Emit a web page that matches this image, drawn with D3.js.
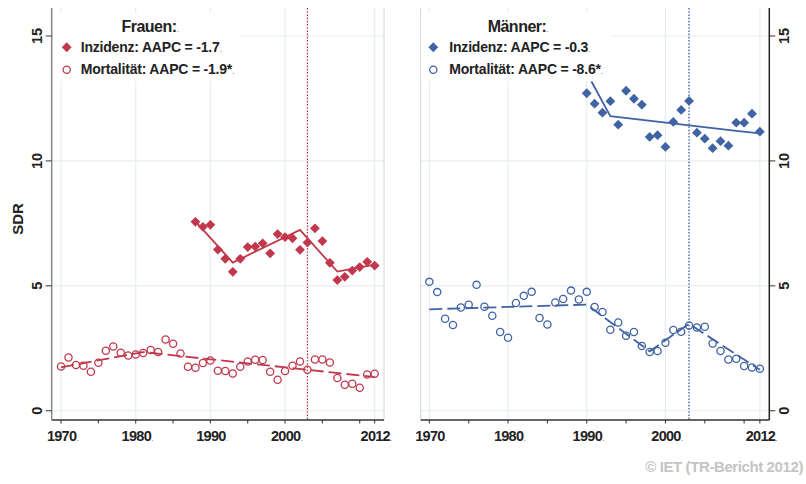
<!DOCTYPE html>
<html><head><meta charset="utf-8">
<script src="https://cdn.jsdelivr.net/npm/d3@7"></script>
<style>
body{margin:0;background:#fff;}
text{font-family:"Liberation Sans",Arial,Helvetica,sans-serif;font-weight:bold;}
</style></head>
<body><svg id="c" width="806" height="484"></svg>
<script>
// ---------- data ----------
const yearsInc = d3.range(1988, 2013); // Frauen incidence years
const frauenInc = [7.56,7.36,7.44,6.45,6.08,5.56,6.08,6.55,6.57,6.70,6.30,7.07,6.95,6.90,6.44,6.73,7.30,6.79,5.92,5.23,5.36,5.61,5.75,5.96,5.81];
const frauenIncFitYears = [1988,1993,2002,2007,2012];
const frauenIncFit = [7.58,5.93,7.24,5.57,5.85];

const yearsMort = d3.range(1970, 2013);
const frauenMort = [1.77,2.13,1.83,1.80,1.56,1.92,2.40,2.57,2.32,2.21,2.25,2.31,2.43,2.35,2.85,2.68,2.29,1.76,1.72,1.91,2.01,1.60,1.59,1.49,1.76,1.97,2.04,2.03,1.56,1.24,1.59,1.80,1.97,1.64,2.05,2.05,1.93,1.31,1.04,1.08,0.92,1.45,1.48];
const frauenMortFitYears = [1970,1981,2012];
const frauenMortFit = [1.74,2.35,1.35];

const yearsIncM = d3.range(1990, 2013);
const maennerInc = [12.71,12.29,11.93,12.39,11.45,12.81,12.49,12.25,10.96,11.03,10.56,11.56,12.04,12.40,11.13,10.89,10.51,10.79,10.61,11.53,11.53,11.89,11.17];
const maennerIncFitYears = [1990.6,1993,2009,2012];
const maennerIncFit = [13.18,11.79,11.20,11.10];

const maennerMort = [5.16,4.75,3.68,3.43,4.13,4.24,5.04,4.16,3.80,3.15,2.92,4.31,4.60,4.76,3.71,3.45,4.33,4.47,4.81,4.45,4.76,4.15,3.95,3.24,3.53,3.00,3.15,2.59,2.35,2.39,2.72,3.23,3.16,3.41,3.33,3.36,2.69,2.39,2.05,2.08,1.79,1.73,1.68];
const maennerMortFitYears = [1970,1990,1998,2003,2012];
const maennerMortFit = [4.06,4.25,2.38,3.48,1.64];

const majorYears = [1970,1980,1990,2000,2012];
const minorYears = [1975,1985,1995,2005,2010];
const yTicks = [0,5,10,15];
const markerYear = 2003;

const panels = [
  {title:"Frauen:", inc:"Inzidenz: AAPC = -1.7", mort:"Mortalität: AAPC = -1.9*",
   color:"#c1384c", incYears:yearsInc, incVals:frauenInc, incFitY:frauenIncFitYears, incFit:frauenIncFit,
   mortVals:frauenMort, mortFitY:frauenMortFitYears, mortFit:frauenMortFit},
  {title:"Männer:", inc:"Inzidenz: AAPC = -0.3", mort:"Mortalität: AAPC = -8.6*",
   color:"#4063a4", incYears:yearsIncM, incVals:maennerInc, incFitY:maennerIncFitYears, incFit:maennerIncFit,
   mortVals:maennerMort, mortFitY:maennerMortFitYears, mortFit:maennerMortFit}
];

// ---------- layout ----------
const svg = d3.select("#c");
const topY = 8, botY = 420;
const y = d3.scaleLinear().domain([-0.37, 16.12]).range([botY, topY]);
const xs = [
  d3.scaleLinear().domain([1968.75, 2013.25]).range([51.7, 384]),
  d3.scaleLinear().domain([1968.9, 2013.2]).range([420.7, 769.3])
];
const grid = "#e6eef1";

panels.forEach((p, i) => {
  const x = xs[i];
  const [x0, x1] = x.range();
  const g = svg.append("g");
  // grid
  g.selectAll(".vg").data(majorYears).join("line")
    .attr("x1", d => x(d)).attr("x2", d => x(d)).attr("y1", topY).attr("y2", botY)
    .attr("stroke", grid).attr("stroke-width", 1.2);
  g.selectAll(".hg").data(yTicks).join("line")
    .attr("x1", x0).attr("x2", x1).attr("y1", d => y(d)).attr("y2", d => y(d))
    .attr("stroke", grid).attr("stroke-width", 1.2);
  // light inner frame edge
  g.append("line").attr("x1", i === 0 ? x1 : x0).attr("x2", i === 0 ? x1 : x0)
    .attr("y1", topY).attr("y2", botY).attr("stroke", "#d0d4d6").attr("stroke-width", 1);

  // legend box
  const lx = i === 0 ? x0 + 1 : x0 + 0.5;
  g.append("rect").attr("x", lx).attr("y", 13).attr("width", i === 0 ? 188 : 190).attr("height", 68).attr("fill", "#fff");

  // vertical marker line
  g.append("line").attr("x1", x(markerYear)).attr("x2", x(markerYear)).attr("y1", topY).attr("y2", botY)
    .attr("stroke", p.color).attr("stroke-width", 1.3).attr("stroke-dasharray", "1.6,1.6");

  // fitted lines
  const line = d3.line().x(d => x(d[0])).y(d => y(d[1]));
  g.append("path").datum(p.incFitY.map((yy, k) => [yy, p.incFit[k]]))
    .attr("d", line).attr("fill", "none").attr("stroke", p.color).attr("stroke-width", 1.8);
  g.append("path").datum(p.mortFitY.map((yy, k) => [yy, p.mortFit[k]]))
    .attr("d", line).attr("fill", "none").attr("stroke", p.color).attr("stroke-width", 1.8)
    .attr("stroke-dasharray", "13,5");

  // points
  const diamond = d3.symbol().type(d3.symbolDiamond2).size(62);
  g.selectAll(".inc").data(p.incYears.map((yy, k) => [yy, p.incVals[k]])).join("path")
    .attr("d", diamond).attr("transform", d => `translate(${x(d[0])},${y(d[1])})`)
    .attr("fill", p.color);
  g.selectAll(".mort").data(yearsMort.map((yy, k) => [yy, p.mortVals[k]])).join("circle")
    .attr("cx", d => x(d[0])).attr("cy", d => y(d[1])).attr("r", 3.6)
    .attr("fill", "none").attr("stroke", p.color).attr("stroke-width", 1.3);

  // axes
  const ax = g.append("g").attr("transform", `translate(0,${botY})`);
  ax.append("line").attr("x1", x0).attr("x2", x1).attr("stroke", "#333").attr("stroke-width", 1.5);
  ax.selectAll(".mt").data(majorYears.concat(minorYears)).join("line")
    .attr("x1", d => x(d)).attr("x2", d => x(d)).attr("y1", 0).attr("y2", 3.5)
    .attr("stroke", "#333").attr("stroke-width", 1);
  const lbl = ax.selectAll(".xl").data(majorYears).join("text")
    .attr("x", d => x(d) + 1.5).attr("y", 21).attr("text-anchor", "middle")
    .attr("font-size", 14.5).attr("letter-spacing", -0.7).attr("fill", "#222").text(d => d);
  lbl.append("tspan").attr("font-size", 9).attr("font-weight", "normal").attr("fill", "#888").text(".");

  // y axis
  const yaX = i === 0 ? x0 : x1;
  const dir = i === 0 ? -1 : 1;
  g.append("line").attr("x1", yaX).attr("x2", yaX).attr("y1", topY).attr("y2", botY)
    .attr("stroke", i === 0 ? "#888" : "#222").attr("stroke-width", 1.5);
  g.selectAll(".yt").data(yTicks).join("line")
    .attr("x1", yaX).attr("x2", yaX + dir * 6).attr("y1", d => y(d)).attr("y2", d => y(d))
    .attr("stroke", "#333").attr("stroke-width", 1);
  const lxp = i === 0 ? 41.7 : 788.5;
  g.selectAll(".yl").data(yTicks).join("text")
    .attr("transform", d => `translate(${lxp},${y(d)}) rotate(-90)`)
    .attr("text-anchor", "middle").attr("font-size", 14.5).attr("fill", "#222").text(d => d);

  // legend
  const cx = i === 0 ? 150 : 518;
  g.append("text").attr("x", cx).attr("y", 32).attr("text-anchor", "middle")
    .attr("font-size", 16).attr("letter-spacing", -0.5).attr("fill", "#222").text(p.title)
    .append("tspan").attr("font-size", 9).attr("font-weight", "normal").attr("fill", "#888").text(".");
  const mx = i === 0 ? 66.7 : 433.3;
  const tx = i === 0 ? 80.7 : 449.3;
  g.append("path").attr("d", diamond).attr("transform", `translate(${mx},47.3)`).attr("fill", p.color);
  g.append("circle").attr("cx", mx).attr("cy", 69.7).attr("r", 3.6)
    .attr("fill", "none").attr("stroke", p.color).attr("stroke-width", 1.3);
  [[p.inc, 52], [p.mort, 74]].forEach(([t, yy]) => {
    g.append("text").attr("x", tx).attr("y", yy).attr("font-size", 14).attr("letter-spacing", -0.2)
      .attr("fill", "#222").text(t)
      .append("tspan").attr("font-size", 9).attr("font-weight", "normal").attr("fill", "#888").text(".");
  });
});

// y title
svg.append("text").attr("transform", "translate(23,219) rotate(-90)").attr("text-anchor", "middle")
  .attr("font-size", 15).attr("fill", "#222").text("SDR");

// credit
svg.append("text").attr("x", 803).attr("y", 472).attr("text-anchor", "end")
  .attr("font-size", 15).attr("letter-spacing", -0.4).attr("fill", "#c4c4c4").text("© IET (TR-Bericht 2012)");
</script>
</body></html>
